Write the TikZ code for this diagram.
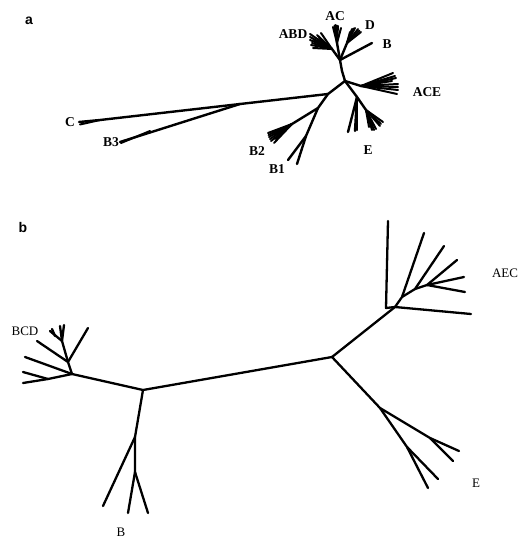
\documentclass[tikz,border=0pt]{standalone}
\usepackage{fontspec}
\setmainfont{Liberation Serif}
\setsansfont{Liberation Sans}
\begin{document}
\begin{tikzpicture}[x=1pt,y=-1pt,
  br/.style={line width=2.4pt, line cap=round, line join=round},
  fn/.style={line width=2pt, line cap=round},
  bb/.style={line width=2.3pt, line cap=round, line join=round},
  laba/.style={font=\bfseries\fontsize{13.5}{13.5}\selectfont, inner sep=0pt},
  labb/.style={font=\fontsize{13}{13}\selectfont, inner sep=0pt},
  panel/.style={font=\sffamily\bfseries\fontsize{14}{14}\selectfont, inner sep=0pt}]
\useasboundingbox (0,0) rectangle (524,538);

% ---------------- panel a ----------------
\node[panel] (pa) at (29,21) {a};
\coordinate (aN) at (345,81);
\coordinate (aU) at (340,60);
\coordinate (aW) at (328,94);
\coordinate (aF) at (318,108);
\coordinate (aA) at (361,86);
\coordinate (aE) at (357,97);
\coordinate (aBl) at (372,43);
\coordinate (aH1) at (332,49);
\coordinate (aH2) at (337,43);
\coordinate (aH3) at (347,43);
\coordinate (aCs) at (240,104);
\coordinate (aCt) at (79,122);
\coordinate (aB3) at (120,142);
\coordinate (aB2h) at (292,124);
\coordinate (aB1h) at (306,136);
\coordinate (aB1a) at (297,164);
\coordinate (aB1b) at (288,160);
\coordinate (aEf) at (366,110);

\draw[br] (aN) -- (342,71) -- (aU);
\draw[br] (aU) -- (aBl);
\draw[br] (aU) -- (aH1);
\draw[br] (aU) -- (aH2);
\draw[br] (aU) -- (aH3);
\foreach \p in {(310,34),(310,37),(310,40),(311,45),(313,48),(317,35),(321,33),(314,41),(319,38),(312,43)}
  \draw[fn] (aH1) -- \p;
\foreach \p in {(333,27),(334.5,25.5),(335.5,25),(337,25.5),(338,26),(341,28)}
  \draw[fn] (aH2) -- \p;
\foreach \p in {(350,32),(352,29),(353.5,28.5),(355,28),(358,29),(361,32),(359.5,30.5)}
  \draw[fn] (aH3) -- \p;

\draw[br] (aN) -- (aA);
\foreach \p in {(393,73),(396,78),(398,84),(398,87),(398,90),(397,94),(392,81),(395,76)}
  \draw[fn] (aA) -- \p;

\draw[br] (aN) -- (aE);
\draw[br] (aE) -- (348,132);
\draw[br] (aE) -- (355,131);
\draw[br] (aE) -- (357,130);
\draw[br] (aE) -- (aEf);
\foreach \p in {(383,122),(381,124),(380,126),(376,129),(374,130),(372,130),(369,127)}
  \draw[fn] (aEf) -- \p;

\draw[br] (aN) -- (aW);
\draw[br] (aW) -- (aCs) -- (100,120) -- (aCt);
\draw[fn] (100,120) -- (80,124.5);
\draw[br] (aCs) -- (aB3);
\draw[fn] (150,131) -- (121,143);

\draw[br] (aW) -- (aF) -- (aB2h);
\foreach \p in {(268,133),(268.5,135),(269,137),(270,139),(271,141),(274,143),(275,139)}
  \draw[fn] (aB2h) -- \p;
\draw[br] (aF) -- (aB1h) -- (aB1a);
\draw[br] (aB1h) -- (aB1b);

\node[laba] (lABD) at (293,34) {ABD};
\node[laba] (lAC) at (335,16) {AC};
\node[laba] (lD) at (370,25) {D};
\node[laba] (lB) at (387,44) {B};
\node[laba] (lACE) at (427,92) {ACE};
\node[laba] (lE) at (368,150) {E};
\node[laba] (lC) at (70,122) {C};
\node[laba] (lB3) at (111,142) {B3};
\node[laba] (lB2) at (257,151) {B2};
\node[laba] (lB1) at (277,169) {B1};

% ---------------- panel b ----------------
\node[panel] (pb) at (23,227) {b};
\coordinate (bL) at (143,390);
\coordinate (bR) at (332,357);
\coordinate (bJ1) at (72,374);
\coordinate (bJ2) at (68,362);
\coordinate (bJ3) at (62,341);
\coordinate (bS1) at (48,379);
\coordinate (bBj1) at (135,437);
\coordinate (bBj2) at (135,472);
\coordinate (bEj) at (380,408);
\coordinate (bEs1) at (430,438);
\coordinate (bEs2) at (407,447);
\coordinate (bAj) at (395,307);
\coordinate (bAj0) at (386,308);
\coordinate (bAj1) at (402,297);
\coordinate (bAj2) at (415,289);
\coordinate (bAj3) at (427,285);

\draw[bb] (bJ1) -- (bL) -- (bR);
% BCD
\draw[bb] (bJ1) -- (bS1) -- (23,383);
\draw[bb] (bS1) -- (23,372);
\draw[bb] (bJ1) -- (25,357);
\draw[bb] (bJ1) -- (bJ2) -- (88,328);
\draw[bb] (bJ2) -- (37,341);
\draw[bb] (bJ2) -- (bJ3) -- (60,326);
\draw[bb] (bJ3) -- (64,325);
\draw[bb] (bJ3) -- (50,331);
\draw[bb] (55,336) -- (52,329);
% B
\draw[bb] (bL) -- (bBj1) -- (bBj2);
\draw[bb] (bBj1) -- (103,506);
\draw[bb] (bBj2) -- (128,513);
\draw[bb] (bBj2) -- (148,513);
% E
\draw[bb] (bR) -- (bEj) -- (bEs1) -- (459,451);
\draw[bb] (bEs1) -- (453,461);
\draw[bb] (bEj) -- (bEs2) -- (428,488);
\draw[bb] (bEs2) -- (438,479);
% AEC
\draw[bb] (bR) -- (bAj) -- (471,314);
\draw[bb] (bAj) -- (bAj0) -- (388,221);
\draw[bb] (bAj) -- (bAj1) -- (424,233);
\draw[bb] (bAj1) -- (bAj2) -- (444,246);
\draw[bb] (bAj2) -- (bAj3) -- (457,260);
\draw[bb] (bAj3) -- (464,277);
\draw[bb] (bAj3) -- (465,292);

\node[labb] (lBCD) at (25,331) {BCD};
\node[labb] (lAEC) at (505,273) {AEC};
\node[labb] (lEb) at (476,483) {E};
\node[labb] (lBb) at (121,532) {B};
\end{tikzpicture}
\end{document}
